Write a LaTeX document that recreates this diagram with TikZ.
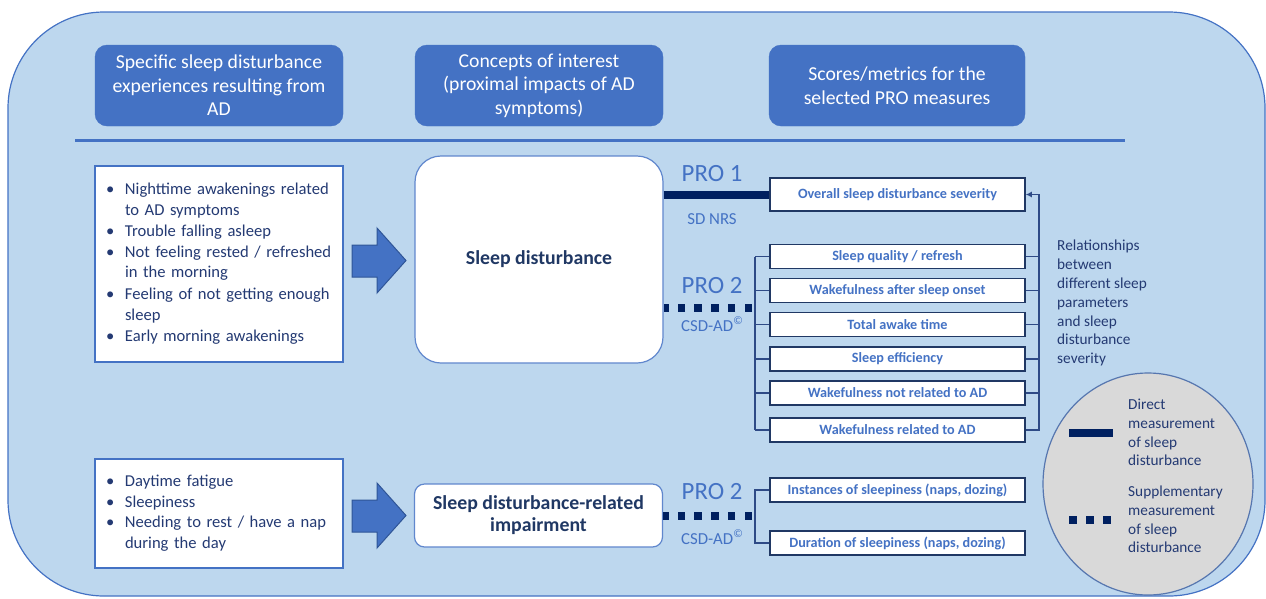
\documentclass[tikz,border=0pt]{standalone}
\usepackage{fontspec}
\setmainfont{Carlito}
\usetikzlibrary{arrows.meta,shapes.geometric,calc}
\definecolor{bgblue}{HTML}{BDD7EE}
\definecolor{midblue}{HTML}{4472C4}
\definecolor{navy}{HTML}{002060}
\definecolor{txtnavy}{HTML}{243A73}
\definecolor{boxnavy}{HTML}{203864}
\definecolor{brnavy}{HTML}{2E4A86}
\definecolor{arrowedge}{HTML}{2F5597}
\definecolor{legendgrey}{HTML}{D9D9D9}
\newcommand{\bitem}[1]{\noindent\makebox[19pt][l]{\textbullet}\begin{tabular}[t]{@{}l@{}}#1\end{tabular}\par}
\newcommand{\copysup}{\raisebox{0.42em}{\fontsize{11.5}{12}\selectfont ©}}
\begin{document}
\begin{tikzpicture}[x=1pt,y=-1pt,
  hdr/.style={fill=midblue,draw=midblue,rounded corners=12pt,text=white,minimum width=248pt,minimum height=81pt,align=center,font=\fontsize{19.7}{23.5}\selectfont},
  bulletbox/.style={fill=white,draw=midblue,line width=1.2pt,text=txtnavy,text width=226pt,inner xsep=11pt,font=\fontsize{16.6}{20.6}\selectfont},
  conceptbox/.style={fill=white,draw=midblue!85!white,line width=1.2pt,text=boxnavy,align=center,font=\bfseries\fontsize{19.8}{22}\selectfont,minimum width=248pt},
  metric/.style={fill=white,draw=boxnavy,line width=1.5pt,text=midblue,minimum width=255pt,minimum height=24pt,inner sep=0pt,font=\bfseries\fontsize{14.2}{16}\selectfont},
  prolabel/.style={text=midblue,font=\fontsize{24.8}{28}\selectfont,inner sep=0pt},
  instlabel/.style={text=midblue,font=\fontsize{16.8}{19}\selectfont,inner sep=0pt},
  sidetext/.style={text=txtnavy,align=left,inner sep=0pt,font=\fontsize{15.3}{18.8}\selectfont},
  direct/.style={draw=navy,line width=8pt},
  suppl/.style={draw=navy,line width=8pt,dash pattern=on 7.5pt off 9.2pt},
  br/.style={draw=brnavy,line width=1.3pt},
  blockarrow/.style={fill=midblue,draw=arrowedge,line width=1pt,line join=miter}
]
\useasboundingbox (0,0) rectangle (1266,598);
% background
\draw[fill=bgblue,draw=midblue,line width=1.2pt,rounded corners=96pt] (8,12) rectangle (1265,596);

% headers
\node[hdr] (h1) at (219,85.5) {Specific sleep disturbance\\experiences resulting from\\AD};
\node[hdr] (h2) at (539,85.5) {Concepts of interest\\(proximal impacts of AD\\symptoms)};
\node[hdr,minimum width=256pt] (h3) at (897,85.5) {Scores/metrics for the\\selected PRO measures};
\coordinate (sepL) at (75,140);
\coordinate (sepR) at (1125,140);
\draw[draw=midblue,line width=3pt] (sepL) -- (sepR);

% left bullet boxes
\node[bulletbox,minimum height=196pt] (b1) at (219,264) {%
\bitem{Nighttime awakenings related\\to AD symptoms}
\bitem{Trouble falling asleep}
\bitem{Not feeling rested / refreshed\\in the morning}
\bitem{Feeling of not getting enough\\sleep}
\bitem{Early morning awakenings}};
\node[bulletbox,minimum height=109pt] (b2) at (219,513.5) {%
\bitem{Daytime fatigue}
\bitem{Sleepiness}
\bitem{Needing to rest / have a nap\\during the day}};

% block arrows
\draw[blockarrow] (352,245) -- (377,245) -- (377,228) -- (406,260.5) -- (377,293) -- (377,277) -- (352,277) -- cycle;
\draw[blockarrow] (352,500) -- (377,500) -- (377,483) -- (406,515.5) -- (377,548) -- (377,532) -- (352,532) -- cycle;

% concept boxes
\node[conceptbox,rounded corners=26pt,minimum height=207pt] (sd) at (539,259.5) {Sleep disturbance};
\node[conceptbox,rounded corners=10pt,minimum height=63pt,inner sep=2pt] (imp) at (538.5,515.5) {Sleep disturbance-related\\impairment};

% metric boxes
\node[metric,minimum height=33pt] (ov) at (897.5,194.5) {Overall sleep disturbance severity};
\node[metric] (q) at (897.5,256.5) {Sleep quality / refresh};
\node[metric] (w1) at (897.5,290.5) {Wakefulness after sleep onset};
\node[metric] (t) at (897.5,324.5) {Total awake time};
\node[metric] (e) at (897.5,359) {Sleep efficiency};
\node[metric] (wn) at (897.5,393) {Wakefulness not related to AD};
\node[metric] (wr) at (897.5,430) {Wakefulness related to AD};
\node[metric] (inst) at (897.5,490) {Instances of sleepiness (naps, dozing)};
\node[metric] (dur) at (897.5,543) {Duration of sleepiness (naps, dozing)};

% PRO labels
\node[prolabel] (p1) at (712,174) {PRO 1};
\node[instlabel] (sdnrs) at (712,219) {SD NRS};
\node[prolabel] (p2) at (712,286) {PRO 2};
\node[instlabel] (csd1) at (712,324) {CSD-AD\copysup};
\node[prolabel] (p3) at (712,492) {PRO 2};
\node[instlabel] (csd2) at (712,537) {CSD-AD\copysup};

% connectors
\draw[direct] (sd.east |- ov.west) -- (ov.west);
\coordinate (lb) at (755,308);
\coordinate (d1) at (752,308);
\draw[suppl] (d1) -- (d1 -| sd.east);
\coordinate (lb2) at (755,516);
\coordinate (d2) at (752,516);
\draw[suppl] (d2) -- (d2 -| imp.east);

\foreach \n in {q,w1,t,e,wn,wr}{\draw[br] (\n.west) -- (\n.west -| lb);}
\draw[br] (q.west -| lb) -- (wr.west -| lb);
\coordinate (rb) at (1039,0);
\foreach \n in {q,w1,t,e,wn}{\draw[br] (\n.east) -- (\n.east -| rb);}
\draw[br,-{Latex[length=6pt,width=6pt]}] (wr.east) -- (wr.east -| rb) -- (ov.east -| rb) -- (ov.east);
\draw[br] (inst.west) -- (inst.west -| lb2) -- (dur.west -| lb2) -- (dur.west);

% side text
\node[sidetext,anchor=north west] (rel) at (1057,240) {Relationships\\between\\different sleep\\parameters\\and sleep\\disturbance\\severity};

% legend
\node[ellipse,fill=legendgrey,draw=midblue!70!gray,line width=1.2pt,minimum width=210pt,minimum height=222pt] (leg) at (1148,484) {};
\coordinate (ls1) at (1069,433);
\coordinate (le1) at (1113,433);
\draw[direct] (ls1) -- (le1);
\coordinate (ls2) at (1069,520);
\coordinate (le2) at (1111,520);
\draw[suppl,dash pattern=on 8pt off 9pt] (ls2) -- (le2);
\node[sidetext,anchor=west] (lt1) at (1128,432.5) {Direct\\measurement\\of sleep\\disturbance};
\node[sidetext,anchor=west] (lt2) at (1128,519.5) {Supplementary\\measurement\\of sleep\\disturbance};
\end{tikzpicture}
\end{document}
